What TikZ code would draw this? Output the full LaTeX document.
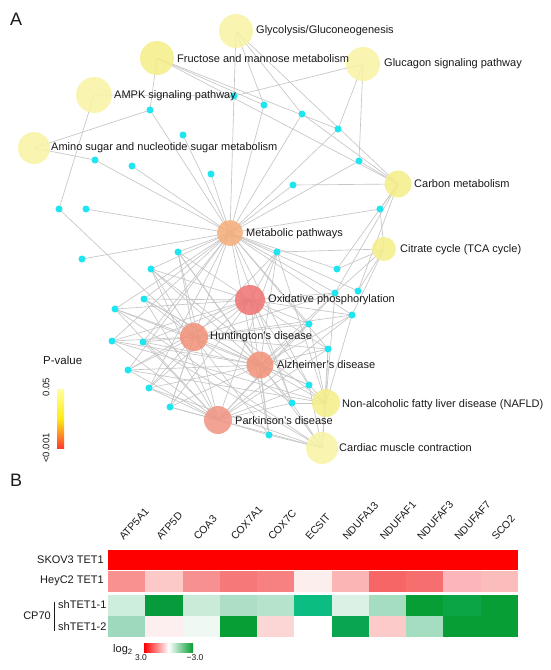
\documentclass[tikz,border=0pt]{standalone}
\usepackage{fontspec}
\setmainfont{Liberation Sans}
\usetikzlibrary{backgrounds}
\definecolor{edgec}{HTML}{C6C6C6}
\definecolor{genec}{HTML}{1EE6F0}
\definecolor{txt}{HTML}{1A1A1A}
\definecolor{ypale}{HTML}{F8F4A4}
\definecolor{ymid}{HTML}{F5EF88}
\definecolor{metc}{HTML}{F6AE7A}
\definecolor{oxc}{HTML}{F07272}
\definecolor{hdc}{HTML}{F29178}
\definecolor{pdc}{HTML}{F29482}
\definecolor{hgreen}{HTML}{079E35}
\begin{document}
\begin{tikzpicture}[x=1pt,y=-1pt,
  edge/.style={draw=edgec, line width=0.65pt},
  gene/.style={circle, fill=genec, minimum size=7pt, inner sep=0pt},
  pw/.style={circle, inner sep=0pt, fill opacity=0.85},
  lab/.style={anchor=west, inner sep=0pt, font=\fontsize{11}{13}\selectfont, text=txt},
  panel/.style={anchor=base west, inner sep=0pt, font=\fontsize{18}{20}\selectfont, text=txt},
  rowlab/.style={inner sep=0pt, font=\fontsize{11}{13}\selectfont, text=txt},
  collab/.style={anchor=base west, rotate=48, inner sep=0pt, font=\fontsize{10.5}{12}\selectfont, text=txt},
  small/.style={inner sep=0pt, font=\fontsize{9.5}{11}\selectfont, text=txt}
]
\useasboundingbox (0,0) rectangle (550,670);

% ---------- panel A : pathway nodes ----------
\node[pw, fill=ypale, minimum size=34pt] (G1) at (236,31) {};
\node[pw, fill=ymid, minimum size=34pt] (G2) at (157,58) {};
\node[pw, fill=ypale, minimum size=34pt] (G3) at (363,64) {};
\node[pw, fill=ypale, minimum size=36pt] (G4) at (94,95) {};
\node[pw, fill=ypale, minimum size=32pt] (G5) at (34,148) {};
\node[pw, fill=ymid, minimum size=27pt] (G6) at (398,184) {};
\node[pw, fill=metc, minimum size=26pt] (M) at (230,233) {};
\node[pw, fill=ymid, minimum size=24pt] (G7) at (384,249) {};
\node[pw, fill=oxc, minimum size=30pt] (OX) at (250,300) {};
\node[pw, fill=hdc, minimum size=28pt] (HU) at (194,337) {};
\node[pw, fill=hdc, minimum size=27pt] (AL) at (260,365) {};
\node[pw, fill=pdc, minimum size=28pt] (PA) at (218,420) {};
\node[pw, fill=ymid, minimum size=28pt] (NA) at (326,403) {};
\node[pw, fill=ypale, minimum size=32pt] (CA) at (322,448) {};

% ---------- gene nodes ----------
\foreach \n/\x/\y in {d1/234/96, d2/264/105, d3/150/110, d4/183/135, d5/95/160,
  d6/132/166, d7/211/174, d8/302/114, d9/338/129, d10/359/161, d11/293/185,
  d12/59/209, d13/86/209, d14/82/259, d15/178/252, d16/151/269, d17/144/299,
  d18/115/309, d19/112/341, d20/143/342, d21/128/370, d22/149/388, d23/170/407,
  d24/277/252, d25/380/209, d26/337/269, d27/335/293, d28/358/291, d29/352/315,
  d30/309/324, d31/328/349, d32/309/385, d33/292/403, d34/269/435}
  {\node[gene] (\n) at (\x,\y) {};}

% ---------- connectors ----------
\begin{pgfonlayer}{background}
\fill[white] (0,0) rectangle (550,670);
\foreach \p/\gs in {
  G1/{d1,d2,d8,G6},
  G2/{d3,d2,d9,G6},
  G3/{d1,d9,d10},
  G4/{d1,d12},
  G5/{d3,d5},
  G6/{d8,d10,d11,d25,d26,d28,d27},
  G7/{d25,d26,d27,d28,d29,d24},
  M/{d1,d2,d3,d4,d5,d6,d7,d8,d9,d10,d11,d13,d14,d15,d16,d17,d18,d19,d20,d21,d22,d23,d24,d25,d26,d27,d28,d29,d30,d31,d32,d33,d34},
  OX/{d15,d16,d17,d18,d19,d20,d21,d22,d23,d24,d27,d29,d30,d31,d32,d33,d34},
  HU/{d12,d15,d16,d17,d18,d19,d20,d21,d22,d23,d24,d27,d29,d30,d31,d32,d33,d34},
  AL/{d15,d16,d17,d18,d19,d20,d21,d22,d23,d24,d27,d29,d30,d31,d32,d33,d34},
  PA/{d15,d16,d17,d18,d19,d20,d21,d22,d23,d24,d27,d29,d30,d31,d32,d33,d34},
  NA/{d16,d17,d19,d21,d24,d29,d30,d31,d32,d33},
  CA/{d15,d18,d20,d22,d23,d27,d31,d32,d33,d34}}
  {\foreach \g in \gs {\draw[edge] (\p.center) -- (\g.center);}}
\end{pgfonlayer}

% ---------- labels ----------
\node[lab] (lG1) at (256,31) {Glycolysis/Gluconeogenesis};
\node[lab] (lG2) at (177,59) {Fructose and mannose metabolism};
\node[lab] (lG3) at (384,64) {Glucagon signaling pathway};
\node[lab] (lG4) at (114,96) {AMPK signaling pathway};
\node[lab] (lG5) at (51,148) {Amino sugar and nucleotide sugar metabolism};
\node[lab] (lG6) at (414,184) {Carbon metabolism};
\node[lab] (lM) at (246,234) {Metabolic pathways};
\node[lab] (lG7) at (400,250) {Citrate cycle (TCA cycle)};
\node[lab] (lOX) at (268,300) {Oxidative phosphorylation};
\node[lab] (lHU) at (210,337) {Huntington’s disease};
\node[lab] (lAL) at (277,365) {Alzheimer’s disease};
\node[lab] (lNA) at (342,405) {Non-alcoholic fatty liver disease (NAFLD)};
\node[lab] (lPA) at (235,421) {Parkinson’s disease};
\node[lab] (lCA) at (339,448) {Cardiac muscle contraction};

\node[panel] (pA) at (10,25) {A};
\node[panel] (pB) at (10,486) {B};

% ---------- P-value legend ----------
\node[lab, font=\fontsize{11.5}{13}\selectfont] (pv) at (43,360) {P-value};
\shade[top color={rgb,255:red,255;green,255;blue,160}, bottom color={rgb,255:red,255;green,60;blue,45}, middle color={rgb,255:red,255;green,235;blue,20}] (57,389) rectangle (64,448);
\node[small, rotate=90] (p05) at (46,387) {0.05};
\node[small, rotate=90] (p001) at (46,448) {<0.001};

% ---------- panel B : heatmap ----------
\def\cw{37.27}
\fill[red] (108,550) rectangle (518,570);
\foreach \i/\c in {0/F8918F,1/FCC8C8,2/F79090,3/F67878,4/F78080,5/FDEEEE,6/FBB5B5,7/F66666,8/F76E6E,9/FBB5BB,10/FBBCBC}
  {\definecolor{tmpc}{HTML}{\c}\fill[tmpc] (108+\i*\cw,571) rectangle (108+\i*\cw+\cw+0.3,592);}
\foreach \i/\c in {0/CDEEDD,1/079B3C,2/CBEBD9,3/ACDFC5,4/B6E3CC,5/0BBD80,6/DCF1E6,7/A4DDC0,8/079E35,9/0BA546,10/079E35}
  {\definecolor{tmpc}{HTML}{\c}\fill[tmpc] (108+\i*\cw,595) rectangle (108+\i*\cw+\cw+0.3,616);}
\foreach \i/\c in {0/9ED9BE,1/FDEFEF,2/F0F8F4,3/079E35,4/FCD5D5,5/FFFFFF,6/0AA550,7/FDCACA,8/A4DDC0,9/079E35,10/079E35}
  {\definecolor{tmpc}{HTML}{\c}\fill[tmpc] (108+\i*\cw,616) rectangle (108+\i*\cw+\cw+0.3,637);}

\foreach \i/\t in {0/ATP5A1,1/ATP5D,2/COA3,3/COX7A1,4/COX7C,5/ECSIT,6/NDUFA13,7/NDUFAF1,8/NDUFAF3,9/NDUFAF7,10/SCO2}
  {\node[collab] (c\i) at (108+\i*\cw+\cw/2-3,541) {\t};}

\node[rowlab, anchor=east] (r1) at (104,560) {SKOV3 TET1};
\node[rowlab, anchor=east] (r2) at (104,581) {HeyC2 TET1};
\node[rowlab, anchor=west] (r3) at (58,605) {shTET1-1};
\node[rowlab, anchor=west] (r4) at (58,627) {shTET1-2};
\node[rowlab, anchor=east] (cp) at (51,616) {CP70};
\draw[txt, line width=0.6pt] (54,602) -- (54,631);

% ---------- heatmap legend ----------
\node[rowlab, anchor=west] (lg) at (113,650) {log\textsubscript{2}};
\shade[left color=red, right color=hgreen, middle color=white] (144,643) rectangle (193,652);
\node[small, font=\fontsize{8.5}{9}\selectfont] (l3) at (141,658) {3.0};
\node[small, font=\fontsize{8.5}{9}\selectfont] (lm3) at (195,658) {−3.0};
\end{tikzpicture}
\end{document}
